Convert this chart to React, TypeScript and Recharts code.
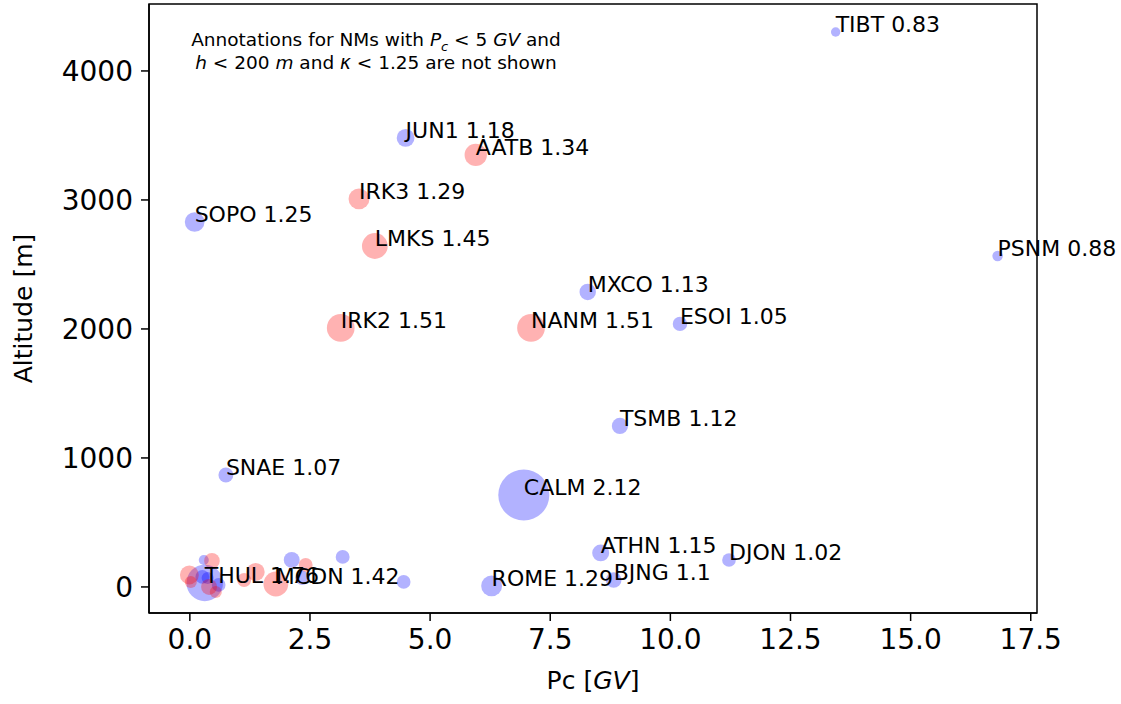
import React from "react";
import {
  ScatterChart,
  Scatter,
  XAxis,
  YAxis,
  ReferenceArea,
} from "recharts";

// blue stations (empty name = not annotated)
const blueNames = [
  "TIBT", "JUN1", "SOPO", "PSNM", "MXCO", "ESOI", "TSMB", "SNAE", "CALM",
  "ATHN", "DJON", "BJNG", "ROME", "THUL",
  "", "", "", "", "", "", "", "",
];
const bluePc = [
  13.44, 4.49, 0.1, 16.81, 8.28, 10.2, 8.95, 0.75, 6.95,
  8.55, 11.22, 8.82, 6.28, 0.31,
  0.29, 0.26, 0.6, 2.12, 2.34, 3.18, 4.45, 0.37,
];
const blueAlt = [
  4302, 3481, 2829, 2566, 2287, 2039, 1248, 868, 713,
  264, 209, 54, 8, 31,
  209, 78, 16, 209, 70, 233, 39, 70,
];
const blueKappa = [
  0.83, 1.18, 1.25, 0.88, 1.13, 1.05, 1.12, 1.07, 2.12,
  1.15, 1.02, 1.1, 1.29, 1.76,
  0.86, 1.03, 1.02, 1.11, 1.04, 1.03, 1.02, 0.95,
];

// red stations
const redNames = ["AATB", "IRK3", "LMKS", "IRK2", "NANM", "MCDN", "", "", "", "", "", "", "", ""];
const redPc = [5.95, 3.52, 3.85, 3.14, 7.1, 1.79, 0.46, -0.01, 0.02, 0.4, 0.54, 1.13, 1.37, 2.41];
const redAlt = [3349, 3008, 2643, 2008, 2008, 23, 202, 93, 39, 0, -39, 54, 116, 171];
const redKappa = [1.34, 1.29, 1.45, 1.51, 1.51, 1.42, 1.1, 1.22, 0.95, 1.11, 0.95, 1.03, 1.19, 1.03];

const xTicks = [0, 2.5, 5, 7.5, 10, 12.5, 15, 17.5];
const yTicks = [0, 1000, 2000, 3000, 4000];

const build = (names: string[], pc: number[], alt: number[], k: number[]) =>
  names.map((name, i) => ({ name, pc: pc[i], alt: alt[i], kappa: k[i] }));

const blueData = build(blueNames, bluePc, blueAlt, blueKappa);
const redData = build(redNames, redPc, redAlt, redKappa);
const labelData = [...blueData, ...redData].filter((d) => d.name !== "");

const FONT = "DejaVu Sans";
const radius = (k: number) => 6.6 * Math.pow(k, 1.8);

const dot = (color: string) => (props: any) => {
  const p = props.payload ?? props;
  return (
    <circle cx={props.cx} cy={props.cy} r={radius(p.kappa)} fill={color} fillOpacity={0.3} />
  );
};

const labelShape = (props: any) => {
  const p = props.payload ?? props;
  return (
    <text x={props.cx} y={props.cy} fontSize={22} fontFamily={FONT} fill="#000">
      {p.name} {String(p.kappa)}
    </text>
  );
};

const XLabel = (props: any) => {
  const vb = props.viewBox;
  return (
    <text x={vb.x + vb.width / 2} y={vb.y + 76} textAnchor="middle" fontSize={25} fontFamily={FONT} fill="#000">
      Pc [<tspan fontStyle="italic">GV</tspan>]
    </text>
  );
};

const YLabel = (props: any) => {
  const vb = props.viewBox;
  const cy = vb.y + vb.height / 2;
  return (
    <text
      x={32}
      y={cy}
      transform={`rotate(-90 32 ${cy})`}
      textAnchor="middle"
      fontSize={25}
      fontFamily={FONT}
      fill="#000"
    >
      Altitude [m]
    </text>
  );
};

const tickStyle = { fontSize: 28, fontFamily: FONT, fill: "#000" };

export default function App() {
  return (
    <div style={{ position: "absolute", left: 0, top: 0, width: 1121, height: 704, background: "#fff" }}>
      <ScatterChart width={1121} height={704} margin={{ top: 4, right: 84, bottom: 0, left: 0 }}>
        <XAxis
          type="number"
          dataKey="pc"
          domain={[-0.85, 17.63]}
          ticks={xTicks}
          tickFormatter={(v: number) => v.toFixed(1)}
          tick={tickStyle}
          tickSize={8}
          tickMargin={8}
          stroke="#000"
          strokeWidth={1.5}
          height={91}
          label={<XLabel />}
        />
        <YAxis
          type="number"
          dataKey="alt"
          domain={[-202, 4519]}
          ticks={yTicks}
          tick={tickStyle}
          tickSize={8}
          tickMargin={8}
          stroke="#000"
          strokeWidth={1.5}
          width={149}
          label={<YLabel />}
        />
        <ReferenceArea x1={-0.85} x2={17.63} y1={-202} y2={4519} fill="none" stroke="#000" strokeWidth={1.5} />
        <Scatter data={blueData} shape={dot("#0000ff")} isAnimationActive={false} />
        <Scatter data={redData} shape={dot("#ff0000")} isAnimationActive={false} />
        <Scatter data={labelData} shape={labelShape} isAnimationActive={false} />
      </ScatterChart>
      <div
        style={{
          position: "absolute",
          left: 160,
          top: 28,
          width: 432,
          textAlign: "center",
          fontFamily: FONT,
          fontSize: 18.5,
          lineHeight: "23px",
          color: "#000",
        }}
      >
        Annotations for NMs with <i>P</i>
        <sub style={{ fontSize: 13, fontStyle: "italic", lineHeight: 0 }}>c</sub> &lt; 5 <i>GV</i> and
        <br />
        <i>h</i> &lt; 200 <i>m</i> and <i>κ</i> &lt; 1.25 are not shown
      </div>
    </div>
  );
}
